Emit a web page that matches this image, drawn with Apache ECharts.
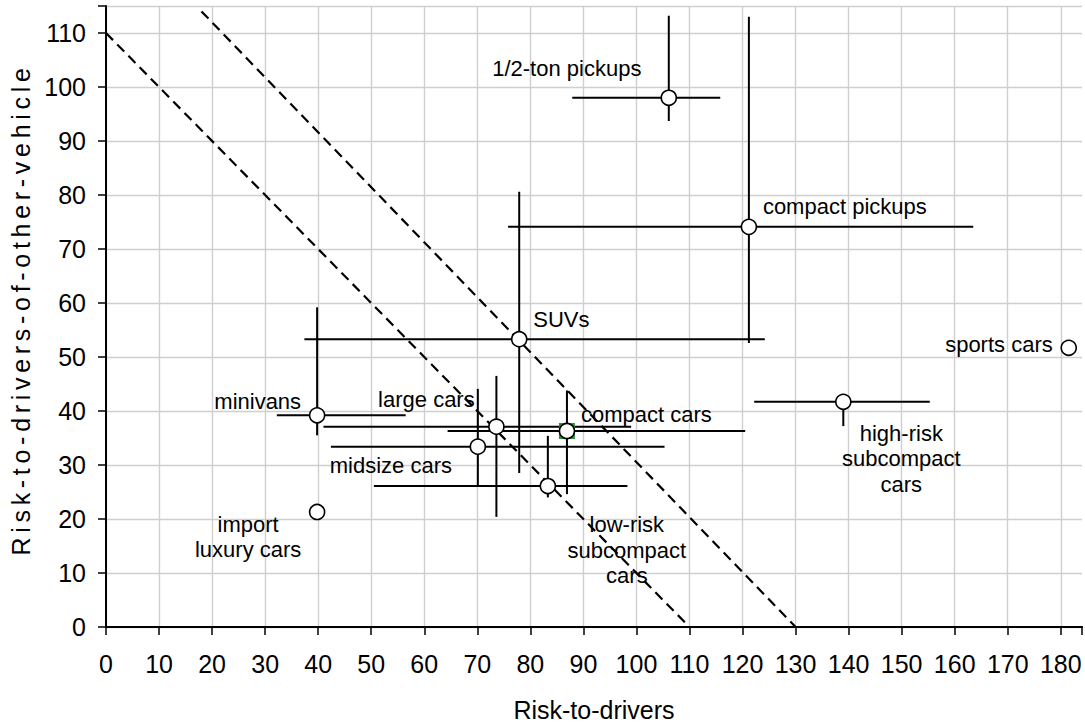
<!DOCTYPE html>
<html>
<head>
<meta charset="utf-8">
<script src="https://cdn.jsdelivr.net/npm/echarts@6/dist/echarts.min.js"></script>
<style>
html,body{margin:0;padding:0;background:#fff;overflow:hidden;}
#chart{width:1085px;height:727px;}
#chart text[fill="#000001"]{letter-spacing:4.7px;}
</style>
</head>
<body>
<div id="chart"></div>
<script>
// ---- data ----
const categories = ['1/2-ton pickups', 'compact pickups', 'SUVs', 'minivans', 'large cars',
  'compact cars', 'midsize cars', 'low-risk\nsubcompact\ncars', 'high-risk\nsubcompact\ncars',
  'sports cars', 'import\nluxury cars'];
const riskToDrivers = [106.1, 121.2, 77.9, 39.8, 73.6, 86.9, 70.1, 83.3, 139.0, 181.5, 39.8];
const riskToOthers  = [98.0, 74.1, 53.3, 39.2, 37.1, 36.3, 33.4, 26.1, 41.7, 51.7, 21.3];
const driversLow    = [87.9, 75.8, 37.4, 32.2, 41.0, 64.4, 42.4, 50.5, 122.2, null, null];
const driversHigh   = [115.8, 163.5, 124.2, 56.5, 99.0, 120.5, 105.3, 98.3, 155.3, null, null];
const othersLow     = [93.7, 52.6, 28.5, 35.5, 20.4, 24.6, 26.1, 24.0, 37.2, null, null];
const othersHigh    = [113.2, 113.0, 80.6, 59.2, 46.5, 43.8, 44.1, 35.4, null, null, null];
const refLineA = [[0, 110], [110, 0]];
const refLineB = [[18, 114], [130, 0]];
const highlightedIndex = 5; // compact cars (selected marker in source)
const xTitle = 'Risk-to-drivers';
const yTitle = 'Risk-to-drivers-of-other-vehicle';

// ---- label styling (position relative to point) ----
const labelStyle = {
  '1/2-ton pickups': {align: 'center', offset: [-102, -29]},
  'compact pickups': {align: 'left', offset: [14, -20]},
  'SUVs': {align: 'left', offset: [14, -20]},
  'minivans': {align: 'right', offset: [-16, -14]},
  'large cars': {align: 'center', offset: [-70, -27]},
  'compact cars': {align: 'left', offset: [14, -16]},
  'midsize cars': {align: 'center', offset: [-87, 19]},
  'low-risk\nsubcompact\ncars': {align: 'center', offset: [79, 64]},
  'high-risk\nsubcompact\ncars': {align: 'center', offset: [58, 57]},
  'sports cars': {align: 'right', offset: [-16, -3]},
  'import\nluxury cars': {align: 'center', offset: [-69, 25]}
};

const FONT = '"Liberation Sans", Arial, sans-serif';

const pointData = categories.map((c, i) => {
  const s = labelStyle[c];
  return {
    name: c,
    value: [riskToDrivers[i], riskToOthers[i]],
    label: {show: true, position: 'inside', align: s.align, verticalAlign: 'middle', offset: s.offset,
      formatter: c, color: '#000', fontSize: 22, fontFamily: FONT, lineHeight: 25.5}
  };
});

const errData = categories.map((c, i) => [riskToDrivers[i], riskToOthers[i], driversLow[i], driversHigh[i], othersLow[i], othersHigh[i]]);

const chart = echarts.init(document.getElementById('chart'), null, {renderer: 'svg', width: 1085, height: 727});
chart.setOption({
  animation: false,
  backgroundColor: '#fff',
  grid: {left: 105, right: 1, top: 6, bottom: 93, containLabel: false},
  xAxis: [{
    type: 'value', min: 0, max: 184, interval: 10,
    name: xTitle, nameLocation: 'middle', nameGap: 70,
    nameTextStyle: {fontSize: 25, fontFamily: FONT, color: '#000'},
    axisLine: {show: true, onZero: false, lineStyle: {color: '#000', width: 2}},
    axisTick: {show: true, length: 8, lineStyle: {color: '#000', width: 1.5}},
    axisLabel: {margin: 24, fontSize: 25, fontFamily: FONT, color: '#000',
      formatter: v => (v % 10 === 0 ? String(v) : '')},
    splitLine: {show: true, showMaxLine: false, lineStyle: {color: '#cfcfcf', width: 1.4}}
  }, {
    type: 'value', min: 0, max: 1, position: 'top', gridIndex: 0,
    axisLine: {show: true, lineStyle: {color: '#000', width: 2}},
    axisTick: {show: false}, axisLabel: {show: false}, splitLine: {show: false}
  }],
  yAxis: {
    type: 'value', min: 0, max: 115, interval: 10,
    name: yTitle, nameLocation: 'middle', nameGap: 73,
    nameTextStyle: {fontSize: 25, fontFamily: FONT, color: '#000001', padding: [0, 0, 0, 14]},
    axisLine: {show: true, onZero: false, lineStyle: {color: '#000', width: 2}},
    axisTick: {show: true, length: 8, lineStyle: {color: '#000', width: 1.5}},
    axisLabel: {margin: 20, fontSize: 25, fontFamily: FONT, color: '#000',
      formatter: v => (v % 10 === 0 ? String(v) : '')},
    splitLine: {show: true, lineStyle: {color: '#cfcfcf', width: 1.4}}
  },
  series: [
    {
      type: 'custom', name: 'error bars', z: 2,
      data: errData,
      renderItem: function (params, api) {
        const x = api.value(0), y = api.value(1);
        const xl = api.value(2), xh = api.value(3), yl = api.value(4), yh = api.value(5);
        const children = [];
        const st = {stroke: '#000', lineWidth: 2};
        if (!isNaN(xl) && !isNaN(xh)) {
          const a = api.coord([xl, y]), b = api.coord([xh, y]);
          children.push({type: 'line', shape: {x1: a[0], y1: a[1], x2: b[0], y2: b[1]}, style: st});
        }
        if (!isNaN(yl)) {
          const top = isNaN(yh) ? y : yh;
          const a = api.coord([x, yl]), b = api.coord([x, top]);
          children.push({type: 'line', shape: {x1: a[0], y1: a[1], x2: b[0], y2: b[1]}, style: st});
        }
        return {type: 'group', children: children};
      }
    },
    {
      type: 'line', z: 3, data: refLineA, showSymbol: false, symbol: 'none',
      lineStyle: {color: '#000', width: 2.2, type: [10, 6]}, silent: true
    },
    {
      type: 'line', z: 3, data: refLineB, showSymbol: false, symbol: 'none',
      lineStyle: {color: '#000', width: 2.2, type: [10, 6]}, silent: true
    },
    {
      type: 'scatter', z: 4, symbol: 'rect', symbolSize: 16,
      data: [[riskToDrivers[highlightedIndex], riskToOthers[highlightedIndex]]],
      itemStyle: {color: '#2f8f3a', opacity: 1}, silent: true
    },
    {
      type: 'scatter', z: 5, symbol: 'circle', symbolSize: 15,
      itemStyle: {color: '#fff', borderColor: '#000', borderWidth: 1.6, opacity: 1},
      data: pointData
    }
  ]
});

function spaceYTitle() {
  document.querySelectorAll('#chart text').forEach(t => {
    if (t.textContent === yTitle) t.style.letterSpacing = '4.7px';
  });
}
spaceYTitle();
chart.on('finished', spaceYTitle);
setTimeout(spaceYTitle, 50);
</script>
</body>
</html>
